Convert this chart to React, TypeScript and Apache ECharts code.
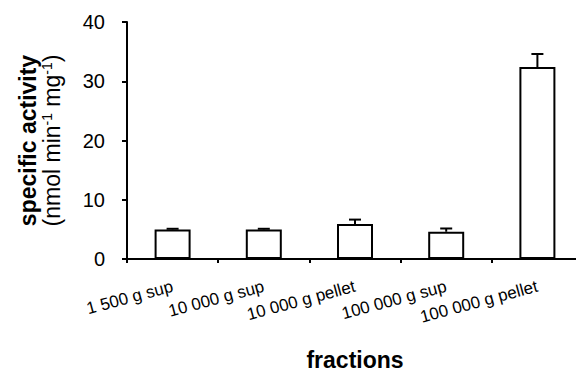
import React, { useEffect, useRef } from "react";
import * as echarts from "echarts";

const categories = ["1 500 g sup", "10 000 g sup", "10 000 g pellet", "100 000 g sup", "100 000 g pellet"];
const activity = [5.0, 5.0, 5.9, 4.6, 32.4];
const errorUp = [0.1, 0.1, 0.75, 0.55, 2.2];
const yTicks = { min: 0, max: 40, interval: 10 };

const FONT = "Liberation Sans, Arial, sans-serif";

export default function App() {
  const ref = useRef<HTMLDivElement>(null);
  useEffect(() => {
    if (!ref.current) return;
    const chart = echarts.init(ref.current, undefined, { renderer: "svg" });
    const errData = activity.map((v, i) => [i, v, v + errorUp[i]]);
    chart.setOption({
      animation: false,
      textStyle: { fontFamily: FONT, color: "#000" },
      grid: { left: 127, right: -7, top: 22, bottom: 114, containLabel: false, outerBoundsMode: "none" },
      xAxis: {
        type: "category",
        data: categories,
        name: "fractions",
        nameLocation: "middle",
        nameGap: 90,
        nameTextStyle: { fontFamily: FONT, fontSize: 23, fontWeight: "bold", lineHeight: 22, color: "#000" },
        axisLine: { lineStyle: { color: "#000", width: 2 } },
        axisTick: { show: true, length: 4, lineStyle: { color: "#000", width: 2 } },
        axisLabel: { rotate: 15, fontSize: 17, color: "#000", fontFamily: FONT, margin: 27, interval: 0 },
      },
      yAxis: {
        type: "value",
        min: yTicks.min,
        max: yTicks.max,
        interval: yTicks.interval,
        name: "{b|specific activity}\n{n|(nmol min}{s|-1}{n| mg}{s|-1}{n|)}",
        nameLocation: "middle",
        nameRotate: 90,
        nameGap: 63,
        nameTextStyle: {
          fontFamily: FONT,
          color: "#000",
          rich: {
            b: { fontFamily: FONT, fontSize: 23, fontWeight: "bold", lineHeight: 24, color: "#000" },
            n: { fontFamily: FONT, fontSize: 23, lineHeight: 24, color: "#000" },
            s: { fontFamily: FONT, fontSize: 14, lineHeight: 14, verticalAlign: "top", color: "#000" },
          },
        },
        axisLine: { show: true, lineStyle: { color: "#000", width: 2 } },
        axisTick: { show: true, length: 5, lineStyle: { color: "#000", width: 2 } },
        axisLabel: { fontSize: 20, color: "#000", fontFamily: FONT, margin: 22 },
        splitLine: { show: false },
      },
      series: [
        {
          type: "bar",
          data: activity,
          barWidth: 36,
          itemStyle: { color: "#fff", borderColor: "#000", borderWidth: 2 },
          z: 2,
        },
        {
          type: "custom",
          data: errData,
          z: 3,
          renderItem: (params: any, api: any) => {
            const base = api.coord([api.value(0), api.value(1)]);
            const top = api.coord([api.value(0), api.value(2)]);
            const st = { stroke: "#000", lineWidth: 2 };
            return {
              type: "group",
              children: [
                { type: "line", shape: { x1: base[0], y1: base[1], x2: base[0], y2: top[1] }, style: st },
                { type: "line", shape: { x1: base[0] - 6, y1: top[1], x2: base[0] + 6, y2: top[1] }, style: st },
              ],
            };
          },
        },
      ],
    });
    return () => chart.dispose();
  }, []);
  return (
    <div
      ref={ref}
      style={{ position: "fixed", left: 0, top: 0, width: 576, height: 373, background: "#fff" }}
    />
  );
}
